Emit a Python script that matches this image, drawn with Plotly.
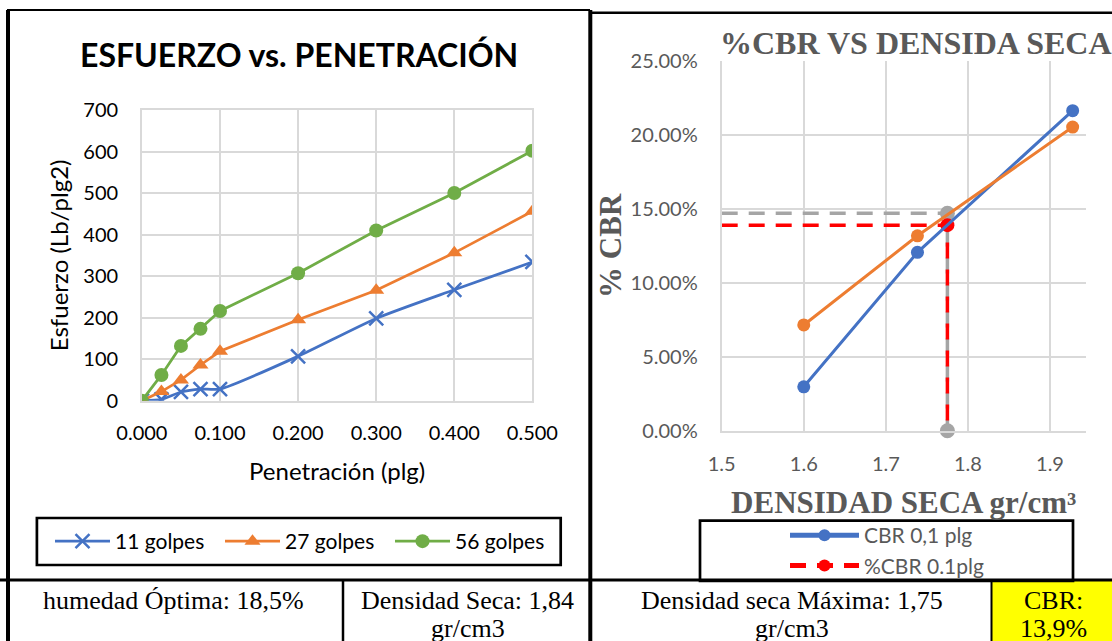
import plotly.graph_objects as go

W, H = 1112, 641


def px(x):
    return x / W


def py(y):
    return 1 - y / H


# --- Esfuerzo vs. penetración ---
penetracion = [0.0, 0.025, 0.05, 0.075, 0.1, 0.2, 0.3, 0.4, 0.5]
golpes_11 = [0, 3, 21, 28, 28, 107, 198, 267, 334]
golpes_27 = [0, 22, 50, 86, 119, 195, 266, 356, 456]
golpes_56 = [0, 62, 132, 173, 216, 307, 410, 500, 602]

# --- %CBR vs. densidad seca ---
densidad = [1.6, 1.7385, 1.9276]
cbr_01 = [0.0297, 0.1206, 0.2164]
cbr_02 = [0.0715, 0.1318, 0.2053]
densidad_ref = [1.5, 1.775, 1.775]
cbr_01_ref = [0.139, 0.139, 0.0]
cbr_02_ref = [0.147, 0.147, 0.0]

# --- Resumen ---
humedad_optima = "18,5%"
densidad_seca = "1,84"
densidad_maxima = "1,75"
cbr_final = "13,9%"

AZUL, NARANJA, VERDE = "#4472c4", "#ed7d31", "#70ad47"
GRIS, ROJO = "#a5a5a5", "#ff0000"
GRID = "#d9d9d9"
TXT_GRIS = "#595959"
SANS = "Lato"
SERIF = "Liberation Serif"

fig = go.Figure()

# Left chart
fig.add_trace(go.Scatter(
    x=penetracion, y=golpes_11, name="11 golpes", mode="lines+markers",
    line=dict(color=AZUL, width=2.75, shape="spline", smoothing=0.6),
    marker=dict(symbol="x-thin", size=14, line=dict(color=AZUL, width=2.5)),
    xaxis="x", yaxis="y", legend="legend"))
fig.add_trace(go.Scatter(
    x=penetracion, y=golpes_27, name="27 golpes", mode="lines+markers",
    line=dict(color=NARANJA, width=2.75),
    marker=dict(symbol="triangle-up", size=14, color=NARANJA),
    xaxis="x", yaxis="y", legend="legend"))
fig.add_trace(go.Scatter(
    x=penetracion, y=golpes_56, name="56 golpes", mode="lines+markers",
    line=dict(color=VERDE, width=2.75),
    marker=dict(symbol="circle", size=14, color=VERDE),
    xaxis="x", yaxis="y", legend="legend"))

# Right chart
dash = "16px,11px"
fig.add_trace(go.Scatter(
    x=densidad_ref, y=cbr_02_ref, name="%CBR 0.2plg", mode="lines+markers",
    line=dict(color=GRIS, width=3.5, dash=dash),
    marker=dict(color=GRIS, size=[0, 15, 15], opacity=1, line=dict(width=0)),
    cliponaxis=False, showlegend=False, xaxis="x2", yaxis="y2", legend="legend2"))
fig.add_trace(go.Scatter(
    x=densidad_ref, y=cbr_01_ref, name="%CBR 0.1plg", mode="lines+markers",
    line=dict(color=ROJO, width=3.5, dash=dash),
    marker=dict(color=ROJO, size=[0, 14, 0], opacity=1, line=dict(width=0)),
    cliponaxis=False, legendrank=2, xaxis="x2", yaxis="y2", legend="legend2"))
fig.add_trace(go.Scatter(
    x=densidad, y=cbr_01, name="CBR 0,1 plg", mode="lines+markers",
    line=dict(color=AZUL, width=3), marker=dict(color=AZUL, size=13),
    legendrank=1, xaxis="x2", yaxis="y2", legend="legend2"))
fig.add_trace(go.Scatter(
    x=densidad, y=cbr_02, name="CBR 0,2 plg", mode="lines+markers",
    line=dict(color=NARANJA, width=3), marker=dict(color=NARANJA, size=13),
    showlegend=False, xaxis="x2", yaxis="y2", legend="legend2"))

axis_common = dict(showgrid=True, gridcolor=GRID, gridwidth=1.5, zeroline=False,
                   ticks="", automargin=False)

fig.update_layout(
    width=W, height=H, autosize=False,
    margin=dict(l=0, r=0, t=0, b=0, pad=0, autoexpand=False),
    paper_bgcolor="white", plot_bgcolor="white",
    xaxis=dict(
        domain=[px(141.9), px(532.4)], range=[0, 0.5], dtick=0.1, tick0=0,
        tickformat=".3f", showline=True, linecolor=GRID, linewidth=1.5, mirror=True,
        tickfont=dict(family=SANS, size=20, color="black"), ticklabelstandoff=14,
        title=dict(text="Penetración (plg)", font=dict(family=SANS, size=24, color="black"), standoff=20),
        anchor="y", **axis_common),
    yaxis=dict(
        domain=[py(400.7), py(110)], range=[0, 700], dtick=100,
        showline=True, linecolor=GRID, linewidth=1.5, mirror=True,
        tickfont=dict(family=SANS, size=20, color="black"), ticklabelstandoff=18,
        title=dict(text="Esfuerzo (Lb/plg2)", font=dict(family=SANS, size=24, color="black"), standoff=8),
        anchor="x", **axis_common),
    xaxis2=dict(
        domain=[px(721.7), px(1085.7)], range=[1.5, 1.9435], dtick=0.1, tick0=1.5,
        showline=True, linecolor=GRID, linewidth=2,
        tickfont=dict(family=SANS, size=20, color=TXT_GRIS), ticklabelstandoff=14,
        title=dict(text="<b>DENSIDAD SECA gr/cm³</b>", font=dict(family=SERIF, size=31, color=TXT_GRIS), standoff=18),
        anchor="y2", **axis_common),
    yaxis2=dict(
        domain=[py(430.7), py(61)], range=[0, 0.25], dtick=0.05, tickformat=".2%",
        showline=True, linecolor=GRID, linewidth=2,
        tickfont=dict(family=SANS, size=20, color=TXT_GRIS), ticklabelstandoff=18,
        title=dict(text="<b>% CBR</b>", font=dict(family=SERIF, size=31, color=TXT_GRIS), standoff=0),
        anchor="x2", **axis_common),
    legend=dict(
        orientation="h", x=px(50), y=py(541.5), xanchor="left", yanchor="middle",
        font=dict(family=SANS, size=21, color="black"), bgcolor="rgba(0,0,0,0)",
        entrywidth=100, entrywidthmode="pixels", itemwidth=55, borderwidth=0),
    legend2=dict(
        orientation="v", x=px(785), y=py(515), xanchor="left", yanchor="top",
        font=dict(family=SANS, size=21, color=TXT_GRIS), bgcolor="rgba(0,0,0,0)",
        itemwidth=69, itemsizing="constant", borderwidth=0),
)

# Panel frames, legend boxes and summary table
lines = [
    (7, 10, 590, 10, 2), (8, 10, 8, 641, 4), (590.3, 10, 590.3, 641, 4),
    (590, 12.8, 1112, 12.8, 2.5), (0, 580, 1112, 580, 3),
    (343, 580, 343, 641, 2.5), (991.5, 580, 991.5, 641, 2),
]
shapes = [dict(type="rect", xref="paper", yref="paper", x0=px(991.5), x1=px(1112),
               y0=py(641), y1=py(581), fillcolor="#ffff00", line=dict(width=0), layer="below")]
for x0, y0, x1, y1, w in lines:
    shapes.append(dict(type="line", xref="paper", yref="paper", x0=px(x0), y0=py(y0),
                       x1=px(x1), y1=py(y1), line=dict(color="black", width=w)))
for x0, y0, x1, y1 in [(36.9, 518, 560.7, 565), (700, 520.7, 1073, 581)]:
    shapes.append(dict(type="rect", xref="paper", yref="paper", x0=px(x0), y0=py(y1),
                       x1=px(x1), y1=py(y0), line=dict(color="black", width=2.7)))
fig.update_layout(shapes=shapes)


def texto(x, y, s, family, size, color="black"):
    fig.add_annotation(x=px(x), y=py(y), xref="paper", yref="paper", text=s,
                       showarrow=False, xanchor="center", yanchor="middle",
                       font=dict(family=family, size=size, color=color))


texto(299, 55, "<b>ESFUERZO vs. PENETRACIÓN</b>", SANS, 32)
texto(916, 43, "<b>%CBR VS DENSIDA SECA</b>", SERIF, 32, TXT_GRIS)
texto(173, 600, f"humedad Óptima: {humedad_optima}", SERIF, 26)
texto(467.5, 600, f"Densidad Seca: {densidad_seca}", SERIF, 26)
texto(467.5, 628, "gr/cm3", SERIF, 26)
texto(792, 600, f"Densidad seca Máxima: {densidad_maxima}", SERIF, 26)
texto(792, 628, "gr/cm3", SERIF, 26)
texto(1053, 600, "CBR:", SERIF, 26)
texto(1053, 628, cbr_final, SERIF, 26)

fig.write_html("out.html")
